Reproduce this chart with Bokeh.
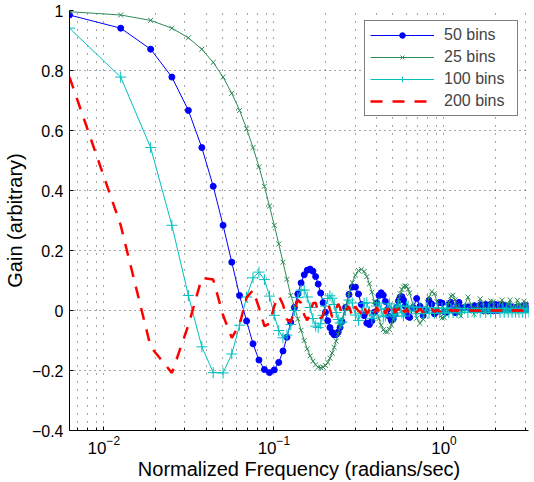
from bokeh.plotting import figure
from bokeh.models import (Range1d, FixedTicker, Legend, LegendItem,
                          CustomJSTickFormatter, ColumnDataSource)
from bokeh.embed import file_html
from bokeh.resources import INLINE

# frequency bin index (normalized frequency = index * 2*pi/1000)
bin_index = [1, 2, 3, 4, 5, 6, 7, 8, 9, 10, 11, 12, 13, 14, 15, 16, 17, 18, 19, 20,
             21, 22, 23, 24, 25, 26, 27, 28, 29, 30, 31, 32, 33, 34, 35, 36, 37, 38, 39, 40,
             42, 44, 46, 48, 50, 52, 54, 56, 58, 60, 62, 64, 66, 68, 70, 72, 74, 76, 78, 80,
             82, 84, 86, 88, 90, 92, 94, 96, 98, 100,
             105, 110, 115, 120, 125, 130, 135, 140, 145, 150, 155, 160, 165, 170, 175, 180,
             185, 190, 195, 200,
             210, 220, 230, 240, 250, 260, 270, 280, 290, 300, 310, 320, 330, 340, 350, 360,
             370, 380, 390, 400, 410, 420, 430, 440, 450, 460, 470, 480, 490, 500]
freq_step = 2 * 3.141592653589793 / 1000

gain_50 = [0.985, 0.941, 0.871, 0.778, 0.667, 0.543, 0.414, 0.284, 0.161, 0.050,
           -0.035, -0.111, -0.165, -0.197, -0.207, -0.198, -0.173, -0.135, -0.089, -0.039,
           0.010, 0.055, 0.092, 0.119, 0.134, 0.138, 0.131, 0.113, 0.088, 0.058,
           0.026, -0.006, -0.034, -0.057, -0.073, -0.081, -0.080, -0.072, -0.057, -0.037,
           0.010, 0.053, 0.078, 0.078, 0.055, 0.020, -0.017, -0.042, -0.047, -0.034,
           -0.006, 0.025, 0.050, 0.059, 0.051, 0.030, 0.003, -0.020, -0.032, -0.029,
           -0.013, 0.010, 0.032, 0.045, 0.046, 0.035, 0.015, -0.005, -0.020, -0.023,
           0.010, 0.040, 0.014, -0.017, 0.002, 0.034, 0.021, -0.011, -0.003, 0.027,
           0.025, -0.004, -0.006, 0.021, 0.027, 0.002, -0.007, 0.015, 0.027, 0.008,
           0.010, 0.012, 0.006, 0.016, 0.002, 0.019, 0.000, 0.020, -0.001, 0.021,
           -0.001, 0.020, 0.000, 0.019, 0.002, 0.017, 0.004, 0.015, 0.006, 0.012,
           0.009, 0.010, 0.011, 0.008, 0.013, 0.006, 0.015, 0.005, 0.016, 0.004]

gain_25 = [0.996, 0.985, 0.967, 0.941, 0.909, 0.871, 0.827, 0.778, 0.724, 0.667,
           0.606, 0.543, 0.479, 0.414, 0.348, 0.284, 0.222, 0.161, 0.104, 0.050,
           0.015, -0.028, -0.066, -0.100, -0.128, -0.151, -0.169, -0.181, -0.189, -0.191,
           -0.189, -0.183, -0.173, -0.159, -0.142, -0.123, -0.102, -0.079, -0.056, -0.032,
           0.015, 0.058, 0.093, 0.118, 0.133, 0.137, 0.130, 0.113, 0.089, 0.061,
           0.030, 0.000, -0.027, -0.049, -0.064, -0.071, -0.071, -0.063, -0.049, -0.030,
           -0.008, 0.015, 0.037, 0.056, 0.070, 0.079, 0.082, 0.080, 0.071, 0.058,
           0.015, -0.026, -0.043, -0.029, 0.007, 0.044, 0.063, 0.056, 0.029, -0.004,
           -0.025, -0.024, -0.003, 0.027, 0.048, 0.051, 0.035, 0.010, -0.012, -0.018,
           0.015, 0.045, 0.019, -0.012, 0.007, 0.039, 0.026, -0.006, 0.002, 0.032,
           0.030, 0.001, -0.001, 0.026, 0.035, 0.005, -0.005, 0.021, 0.035, 0.012,
           -0.005, 0.015, 0.034, 0.018, -0.002, 0.010, 0.031, 0.022, 0.001, 0.006]

gain_100 = [0.941, 0.778, 0.543, 0.284, 0.050, -0.121, -0.207, -0.208, -0.145, -0.049,
            0.045, 0.109, 0.128, 0.103, 0.048, -0.016, -0.067, -0.091, -0.082, -0.047,
            0.000, 0.043, 0.068, 0.068, 0.045, 0.010, -0.027, -0.052, -0.057, -0.044,
            -0.016, 0.015, 0.040, 0.049, 0.041, 0.020, -0.007, -0.030, -0.042, -0.039,
            0.000, 0.035, 0.025, -0.015, -0.033, -0.009, 0.024, 0.026, -0.004, -0.027,
            -0.015, 0.015, 0.025, 0.004, -0.021, -0.018, 0.007, 0.022, 0.009, -0.014,
            -0.019, 0.000, 0.018, 0.013, -0.008, -0.018, -0.005, 0.014, 0.015, -0.002,
            0.012, -0.011, 0.011, -0.010, 0.010, -0.009, 0.009, -0.009, 0.008, -0.008,
            0.008, -0.008, 0.007, -0.007, 0.007, -0.007, 0.007, -0.007, 0.006, -0.006,
            0.006, -0.006, 0.006, -0.006, 0.006, -0.006, 0.006, -0.006, 0.006, -0.006,
            0.006, -0.006, 0.006, -0.006, 0.006, -0.006, 0.006, -0.006, 0.006, -0.006,
            0.006, -0.006, 0.006, -0.006, 0.006, -0.006, 0.006, -0.006, 0.006, -0.006]

gain_200 = [0.778, 0.284, -0.121, -0.208, -0.049, 0.109, 0.103, -0.016, -0.091, -0.047,
            0.043, 0.068, 0.010, -0.052, -0.044, 0.015, 0.049, 0.020, -0.030, -0.039,
            0.000, 0.035, 0.025, -0.015, -0.033, -0.009, 0.024, 0.026, -0.004, -0.027,
            -0.015, 0.015, 0.025, 0.004, -0.021, -0.018, 0.007, 0.022, 0.009, -0.014,
            0.000, 0.013, -0.018, 0.014, -0.002, -0.009, 0.015, -0.013, 0.004, 0.006,
            -0.013, 0.012, -0.005, -0.004, 0.010, -0.011, 0.006, 0.002, -0.008, 0.010,
            -0.007, 0.000, 0.007, -0.009, 0.007, -0.001, -0.005, 0.008, -0.007, 0.002,
            0.006, -0.006, 0.005, -0.005, 0.005, -0.004, 0.004, -0.004, 0.003, -0.003,
            0.003, -0.003, 0.002, -0.002, 0.002, -0.002, 0.002, -0.002, 0.001, -0.001,
            0.001, -0.001, 0.001, -0.001, 0.001, -0.001, 0.001, -0.001, 0.001, -0.001,
            0.001, -0.001, 0.001, -0.001, 0.001, -0.001, 0.001, -0.001, 0.001, -0.001,
            0.001, -0.001, 0.001, -0.001, 0.001, -0.001, 0.001, -0.001, 0.001, -0.001]

labels = ["50 bins", "25 bins", "100 bins", "200 bins"]
x_major = [0.01, 0.1, 1]
x_minor = [0.007, 0.008, 0.009, 0.02, 0.03, 0.04, 0.05, 0.06, 0.07, 0.08, 0.09,
           0.2, 0.3, 0.4, 0.5, 0.6, 0.7, 0.8, 0.9, 2, 3]
y_ticks = [-0.4, -0.2, 0, 0.2, 0.4, 0.6, 0.8, 1.0]
x_title = "Normalized Frequency (radians/sec)"
y_title = "Gain (arbitrary)"

FONT = "Liberation Sans"
BLUE = "#0000ff"
GREEN = "#2e8b57"
CYAN = "#00bfbf"
RED = "#ff0000"

freq = [k * freq_step for k in bin_index]
src = ColumnDataSource(dict(f=freq, g50=gain_50, g25=gain_25, g100=gain_100, g200=gain_200))

p = figure(width=534, height=482, x_axis_type="log",
           x_range=Range1d(freq[0], freq[-1]), y_range=Range1d(-0.4, 1.0),
           output_backend="svg", toolbar_location=None,
           min_border_left=67, min_border_right=6, min_border_top=10, min_border_bottom=52)
p.outline_line_color = None
p.background_fill_color = "white"

# axes
xt = FixedTicker(ticks=x_major, minor_ticks=x_minor)
p.xaxis.ticker = xt
p.xgrid.ticker = xt
yt = FixedTicker(ticks=y_ticks)
p.yaxis.ticker = yt
p.ygrid.ticker = yt
p.yaxis.formatter = CustomJSTickFormatter(code="""
    if (Math.abs(tick) < 1e-9) return '0';
    if (Math.abs(tick - 1) < 1e-9) return '1';
    return tick.toFixed(1).replace('-', '\u2212');
""")
p.xaxis.axis_label = x_title
p.yaxis.axis_label = y_title
for ax in (p.xaxis, p.yaxis):
    ax.axis_line_color = "black"
    ax.axis_line_width = 1
    ax.major_tick_in = 4
    ax.major_tick_out = 0
    ax.major_tick_line_color = "black"
    ax.axis_label_text_font = FONT
    ax.axis_label_text_font_size = "20px"
    ax.axis_label_text_font_style = "normal"
    ax.axis_label_text_color = "black"
    ax.major_label_text_font = FONT
    ax.major_label_text_color = "black"
p.xaxis.minor_tick_in = 3
p.xaxis.minor_tick_out = 0
p.xaxis.minor_tick_line_color = "black"
p.yaxis.minor_tick_line_color = None
p.xaxis.major_label_text_font_size = "17px"
p.yaxis.major_label_text_font_size = "16px"
p.xaxis.major_label_standoff = 5
p.xaxis.axis_label_standoff = 1
p.yaxis.major_label_standoff = 6
p.yaxis.axis_label_standoff = 3

# grid (dotted)
p.xgrid.grid_line_color = "black"
p.xgrid.grid_line_alpha = 0.7
p.xgrid.grid_line_dash = "1 7"
p.xgrid.minor_grid_line_color = "black"
p.xgrid.minor_grid_line_alpha = 0.7
p.xgrid.minor_grid_line_dash = "1 7"
p.ygrid.grid_line_color = "black"
p.ygrid.grid_line_alpha = 0.7
p.ygrid.grid_line_dash = "1 4"

# series
l50 = p.line("f", "g50", source=src, line_color=BLUE, line_width=1)
m50 = p.scatter("f", "g50", source=src, marker="circle", size=6,
                fill_color=BLUE, line_color=BLUE)
l25 = p.line("f", "g25", source=src, line_color=GREEN, line_width=1)
m25 = p.scatter("f", "g25", source=src, marker="x", size=7,
                line_color=GREEN, line_width=1)
l100 = p.line("f", "g100", source=src, line_color=CYAN, line_width=1)
m100 = p.scatter("f", "g100", source=src, marker="cross", size=11,
                 line_color=CYAN, line_width=1)
l200 = p.line("f", "g200", source=src, line_color=RED, line_width=2.5,
              line_dash="12 10")

legend = Legend(items=[LegendItem(label=labels[0], renderers=[l50, m50]),
                       LegendItem(label=labels[1], renderers=[l25, m25]),
                       LegendItem(label=labels[2], renderers=[l100, m100]),
                       LegendItem(label=labels[3], renderers=[l200])],
                location="top_right", margin=10, padding=5, spacing=4,
                glyph_width=64, glyph_height=14, label_height=18, label_width=68,
                label_standoff=10,
                label_text_font=FONT, label_text_font_size="16px",
                border_line_color="black", border_line_width=1,
                background_fill_color="white", background_fill_alpha=1)
p.add_layout(legend)

open("out.html", "w").write(file_html(p, INLINE))
